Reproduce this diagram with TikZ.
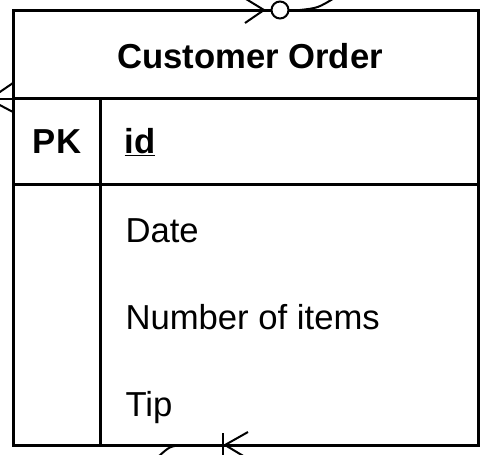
\documentclass[tikz,border=0pt]{standalone}
\usepackage{fontspec}
\setmainfont{Liberation Sans}
\usetikzlibrary{positioning}

\begin{document}
\begin{tikzpicture}[x=0.75pt, y=-0.75pt, line width=2.25pt,
                    every node/.style={inner sep=0pt, font=\fontsize{26}{31}\selectfont},
                    field/.style={anchor=base west}, key/.style={font=\fontsize{26}{31}\selectfont\bfseries},
                    link/.style={draw, line width=1.5pt}]
\useasboundingbox (0,0) rectangle (489,454);

% entity box
\coordinate (nw) at (13,10);
\coordinate (se) at (478,445);
\draw (nw) rectangle (se);
\draw (13,98) -- (478,98);
\draw (13,184) -- (478,184);
\draw (100,98) -- (100,445);

\node[key, anchor=base] (title) at (250,68) {Customer Order};
\node[key, anchor=base] (pk) at (57,153) {PK};
\node[key, field] (id) at (123,153) {\underline{id}};
\node[field] (date) at (124,242) {Date};
\node[field] (items) [below=87*0.75pt of date.base west, anchor=base west] {Number of items};
\node[field] (tip) [below=87*0.75pt of items.base west, anchor=base west] {Tip};

% connector on top: zero or many
\coordinate (topend) at (336,-3);
\coordinate (topfoot) at (264,10);
\draw[link] (topend) .. controls (318,8) .. (300,10) -- (topfoot);
\draw[link] (topfoot) -- (245,23);
\draw[link] (topfoot) -- (246,-1);
\draw[link, fill=white] (280,10) circle (8.5);

% connector on left: many
\coordinate (leftend) at (-5,99);
\draw[link] (leftend) -- (13,99);
\draw[link] (-6,96) -- (13,83);
\draw[link] (-6,102) -- (13,112);

% connector at bottom: one or many
\coordinate (botend) at (158,457);
\coordinate (botfoot) at (225,445);
\draw[link] (botend) .. controls (170,446) .. (185,445) -- (botfoot);
\draw[link] (223,433) -- (223,457);
\draw[link] (botfoot) -- (248,432);
\draw[link] (botfoot) -- (245,457);
\end{tikzpicture}
\end{document}
